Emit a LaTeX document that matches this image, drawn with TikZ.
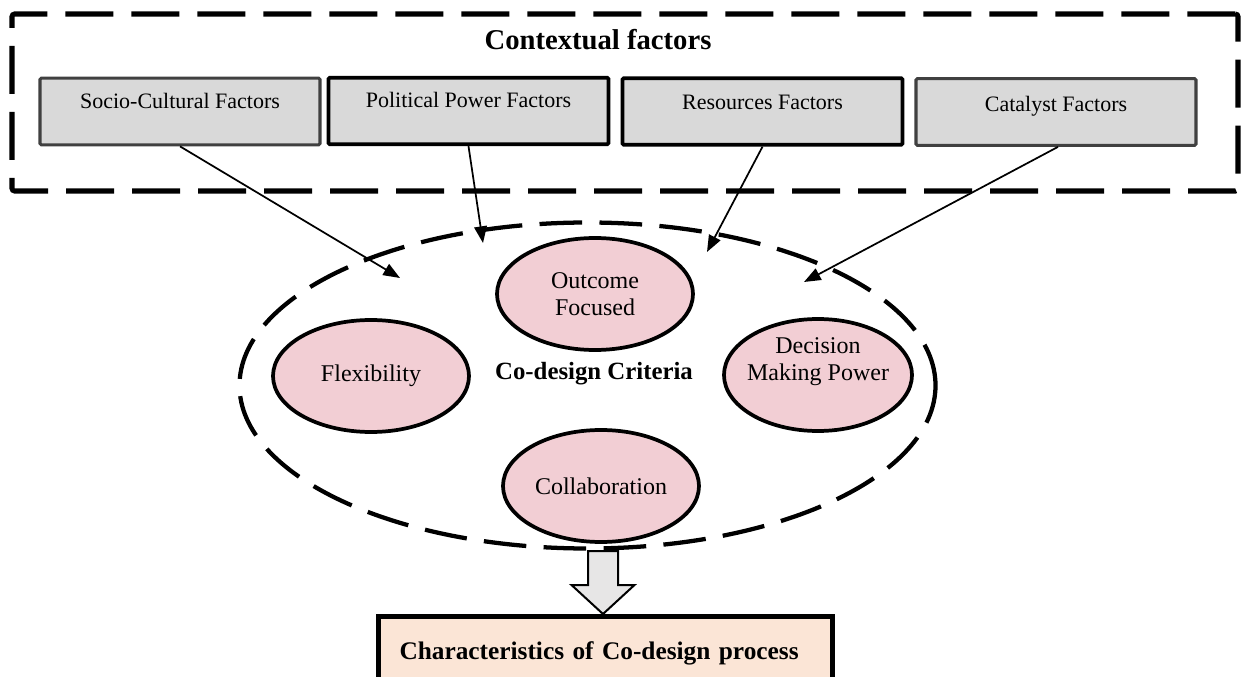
\documentclass[tikz,border=0pt]{standalone}
\usepackage{fontspec}
\setmainfont{Liberation Serif}
\usetikzlibrary{arrows.meta,shapes.geometric}

\definecolor{boxgray}{HTML}{D9D9D9}
\definecolor{critpink}{HTML}{F2CED4}
\definecolor{peach}{HTML}{FBE5D6}
\definecolor{arrowgray}{HTML}{E7E6E6}
\definecolor{darkline}{HTML}{404040}

\begin{document}
\begin{tikzpicture}[x=0.75pt,y=-0.75pt,
  factor/.style={draw=darkline, line width=2.3pt, fill=boxgray, rounded corners=1pt,
    minimum width=210pt, minimum height=50pt, inner sep=0pt,
    font=\fontsize{16.5}{19}\selectfont, text height=12pt, text depth=17pt},
  factorblack/.style={factor, draw=black, line width=2.8pt},
  criterion/.style={ellipse, draw, line width=2.8pt, fill=critpink,
    minimum width=147pt, minimum height=84pt, inner sep=0pt},
  crittext/.style={align=center, font=\fontsize{18}{20}\selectfont, inner sep=0pt},
  influence/.style={line width=1.3pt, -{Triangle[length=12.5pt,width=9.5pt]}},
  bigdash/.style={line width=3.8pt, dash pattern=on 36pt off 13.5pt},
  ovaldash/.style={line width=3.2pt, dash pattern=on 32pt off 13pt}
]
\useasboundingbox (0,0) rectangle (1243,677);
\clip (0,0) rectangle (1243,677);

% contextual factors frame
\node[draw, bigdash, rounded corners=2pt, minimum width=919.5pt, minimum height=132.75pt, inner sep=0pt]
  (ctx) at (625,102.5) {};
\node[font=\bfseries\fontsize{21.5}{24}\selectfont] (ctxtitle) at (598,40) {Contextual factors};

% factor boxes
\node[factor]      (f1) at (180,111.5)  {Socio-Cultural Factors};
\node[factorblack] (f2) at (468.5,111)  {Political Power Factors};
\node[factorblack, text depth=15pt] (f3) at (762.5,111.5) {Resources Factors};
\node[factor, text depth=12pt]      (f4) at (1056,112)    {Catalyst Factors};

% co-design criteria oval
\node[ellipse, draw, ovaldash, minimum width=522pt, minimum height=244.5pt, inner sep=0pt]
  (crit) at (587.5,385.5) {};
\node[font=\bfseries\fontsize{18.6}{21}\selectfont] (crittitle) at (594,374) {Co-design Criteria};

\node[criterion, label={[crittext]center:Outcome\\Focused}] (oc) at (595,294) {};
\node[criterion, label={[crittext]center:Flexibility}] (fx) at (371,376) {};
\node[criterion, label={[crittext, yshift=10pt]center:Decision\\Making Power}, minimum width=141pt] (dm) at (818,375) {};
\node[criterion, label={[crittext]center:Collaboration}] (co) at (601,486) {};

% arrow ends inside the oval
\coordinate (t1) at (400,278);
\coordinate (t2) at (483,243);
\coordinate (t3) at (707,252);
\coordinate (t4) at (804,282);

\draw[influence] (f1.south) -- (t1);
\draw[influence] (f2.south) -- (t2);
\draw[influence] (f3.south) -- (t3);
\draw[influence] ([xshift=1.5pt]f4.south) -- (t4);

% result box
\node[draw, line width=3.6pt, fill=peach, minimum width=341pt, minimum height=55pt,
  inner xsep=16pt, text width=309pt, align=left,
  font=\bfseries\fontsize{19}{22}\selectfont] (proc) at (605.5,653.5)
  {Characteristics of Co-design process};

% block arrow from the criteria to the result
\coordinate (ba) at (603,551);
\draw[line width=1.5pt, fill=arrowgray, line join=miter, shift={(ba)}]
  (-15,0) -- (15,0) -- (15,34) -- (31.5,34) -- (0,63) -- (-31.5,34) -- (-15,34) -- cycle;
\end{tikzpicture}
\end{document}
